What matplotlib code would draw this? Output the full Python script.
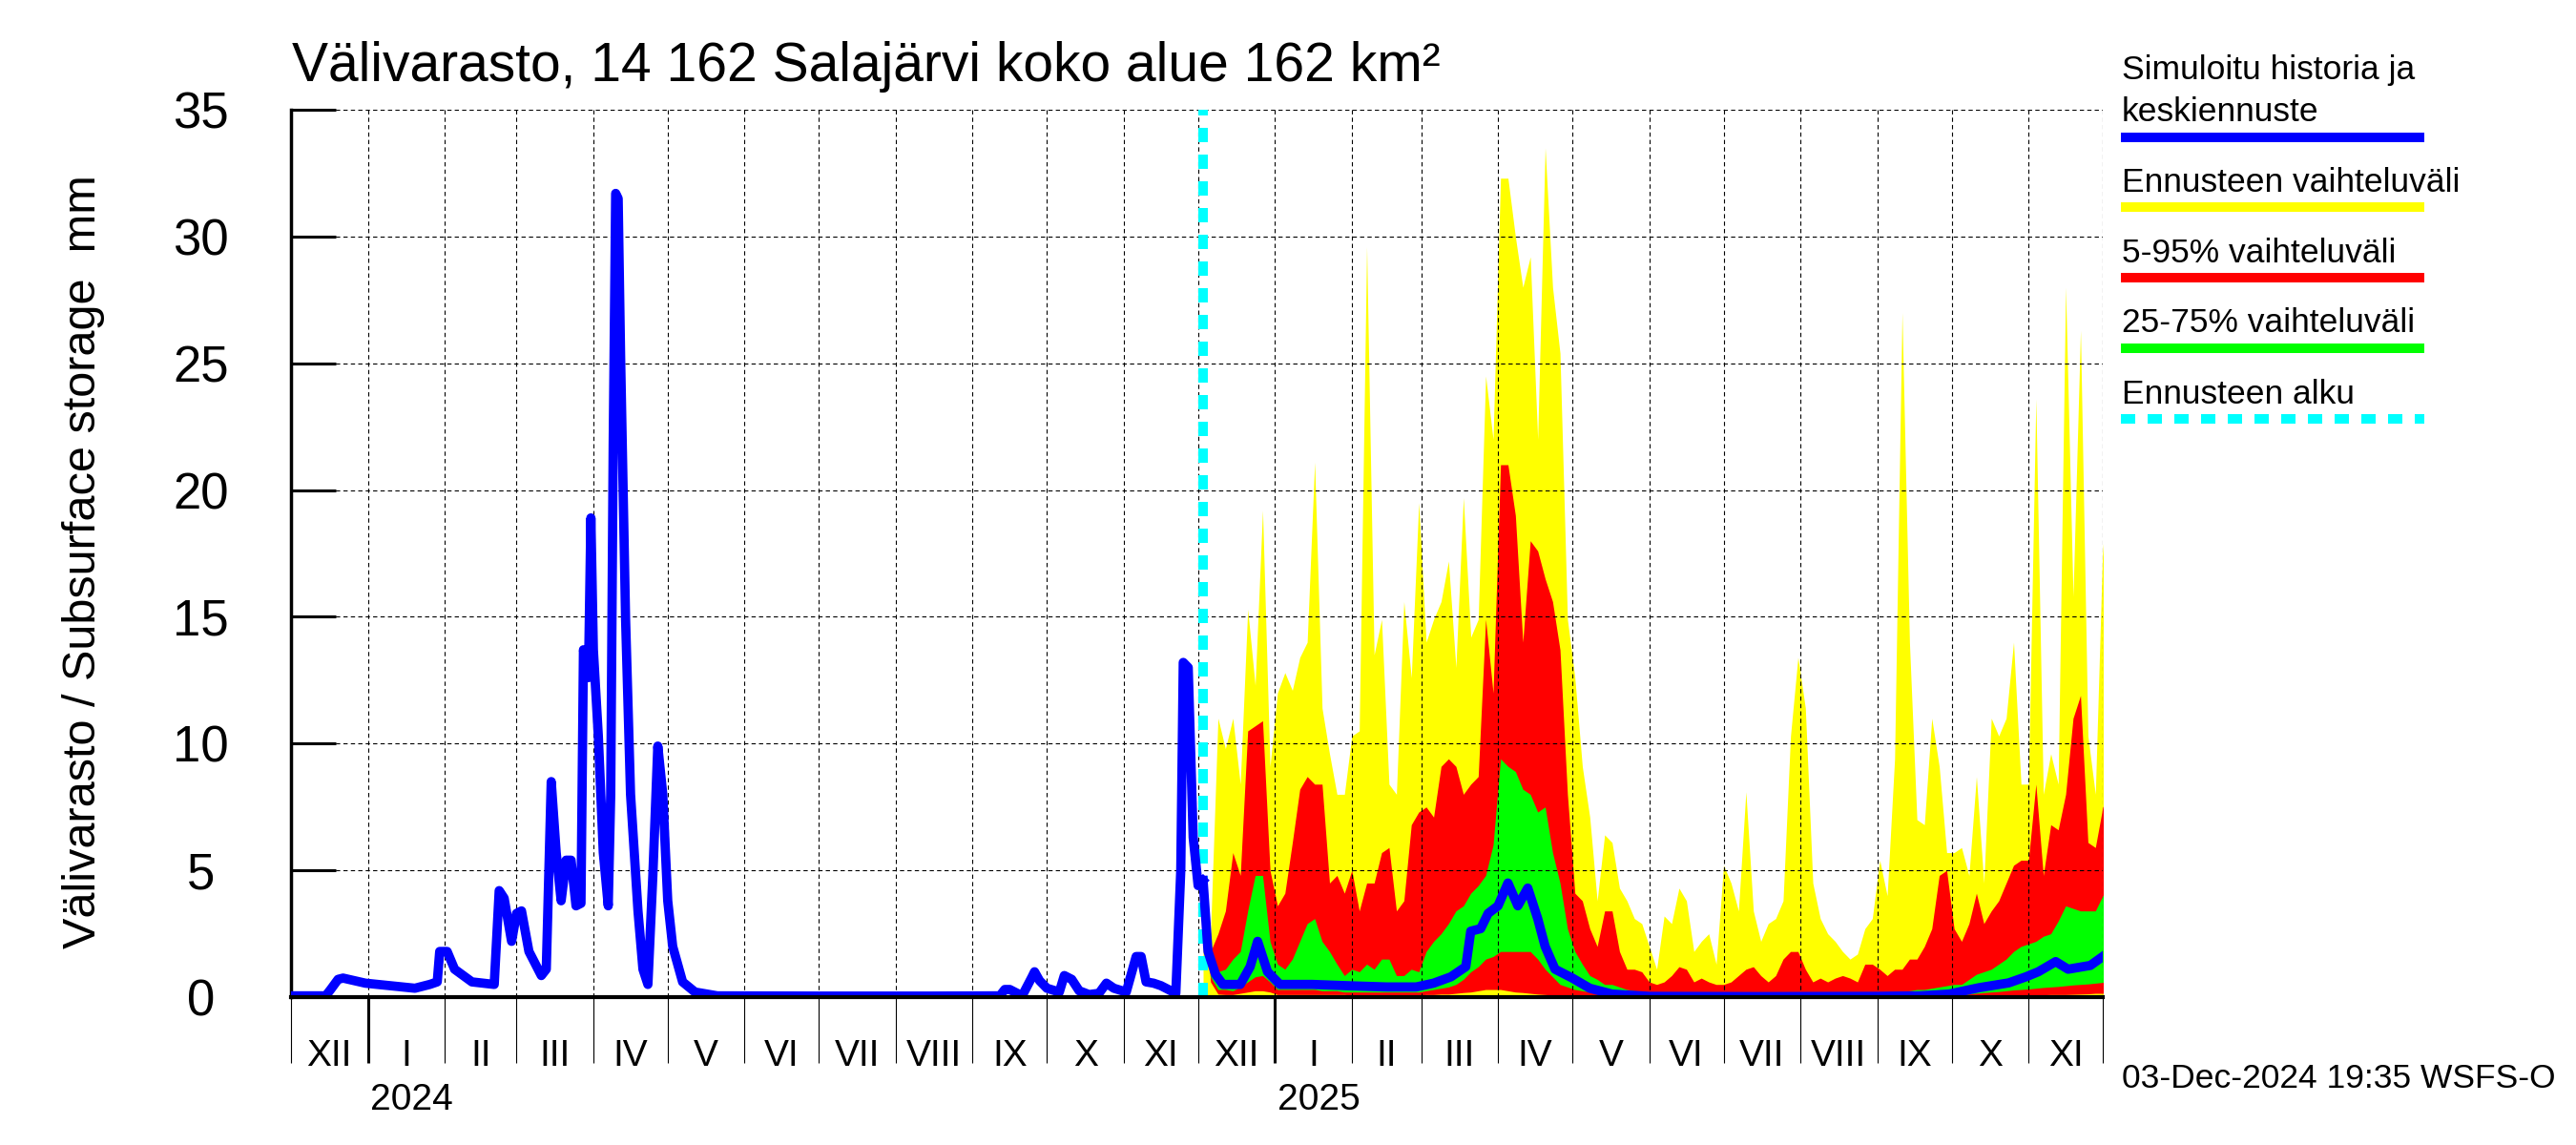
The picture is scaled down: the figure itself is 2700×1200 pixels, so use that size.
import matplotlib
matplotlib.use("Agg")
import matplotlib.pyplot as plt
from matplotlib.lines import Line2D
import matplotlib.transforms as mtransforms
import pandas as pd

plt.rcParams['font.family'] = ['Liberation Sans', 'DejaVu Sans']

# simulated history (blue)
hist_dates = ['2023-12-01', '2023-12-15', '2023-12-17', '2023-12-20', '2023-12-22', '2023-12-31',
              '2024-01-20', '2024-01-26', '2024-01-29', '2024-01-30', '2024-02-02', '2024-02-05',
              '2024-02-12', '2024-02-21', '2024-02-23', '2024-02-25', '2024-02-28', '2024-03-01',
              '2024-03-03', '2024-03-06', '2024-03-11', '2024-03-13', '2024-03-15', '2024-03-17',
              '2024-03-19', '2024-03-21', '2024-03-23', '2024-03-25', '2024-03-27', '2024-03-28',
              '2024-03-30', '2024-03-31', '2024-04-01', '2024-04-03', '2024-04-05', '2024-04-07',
              '2024-04-08', '2024-04-09', '2024-04-10', '2024-04-11', '2024-04-12', '2024-04-14',
              '2024-04-16', '2024-04-19', '2024-04-21', '2024-04-23', '2024-04-25', '2024-04-27',
              '2024-04-29', '2024-05-01', '2024-05-03', '2024-05-07', '2024-05-12', '2024-05-21',
              '2024-07-01', '2024-08-15', '2024-09-12', '2024-09-14', '2024-09-16', '2024-09-21',
              '2024-09-25', '2024-09-26', '2024-09-28', '2024-10-01', '2024-10-06', '2024-10-08',
              '2024-10-11', '2024-10-14', '2024-10-18', '2024-10-22', '2024-10-25', '2024-10-28',
              '2024-11-02', '2024-11-06', '2024-11-08', '2024-11-10', '2024-11-13', '2024-11-16',
              '2024-11-20', '2024-11-22', '2024-11-24', '2024-11-25', '2024-11-27', '2024-11-29',
              '2024-12-01', '2024-12-03']
hist_vals = [0.05, 0.05, 0.3, 0.7, 0.75, 0.55,
             0.35, 0.5, 0.6, 1.8, 1.8, 1.1,
             0.6, 0.5, 4.2, 3.9, 2.2, 3.3,
             3.4, 1.8, 0.85, 1.1, 8.5, 5.7,
             3.8, 5.4, 5.4, 3.6, 3.7, 13.7,
             12.6, 18.9, 13.7, 10.3, 5.7, 3.6,
             8.0, 21.8, 31.7, 31.5, 25.2, 14.9,
             8.0, 3.4, 1.1, 0.5, 4.8, 9.9,
             8.0, 3.8, 2.0, 0.6, 0.2, 0.05,
             0.04, 0.04, 0.05, 0.3, 0.3, 0.05,
             0.8, 1.0, 0.65, 0.35, 0.2, 0.85,
             0.7, 0.25, 0.1, 0.15, 0.55, 0.35,
             0.2, 1.6, 1.6, 0.6, 0.55, 0.45,
             0.25, 0.15, 5.0, 13.2, 13.0, 6.3,
             4.4, 4.6]

# forecast median (blue)
med_dates = ['2024-12-03', '2024-12-05', '2024-12-08', '2024-12-11', '2024-12-18', '2024-12-22',
             '2024-12-25', '2024-12-29', '2025-01-03', '2025-01-16', '2025-01-30', '2025-02-15',
             '2025-02-27', '2025-03-06', '2025-03-13', '2025-03-19', '2025-03-21', '2025-03-25',
             '2025-03-28', '2025-04-01', '2025-04-05', '2025-04-09', '2025-04-13', '2025-04-17',
             '2025-04-20', '2025-04-24', '2025-05-01', '2025-05-08', '2025-05-17', '2025-06-01',
             '2025-07-15', '2025-09-01', '2025-09-18', '2025-09-30', '2025-10-12', '2025-10-24',
             '2025-10-31', '2025-11-05', '2025-11-12', '2025-11-17', '2025-11-26', '2025-12-01']
med_vals = [4.6, 1.8, 0.9, 0.5, 0.5, 1.2,
            2.2, 1.0, 0.5, 0.5, 0.45, 0.4,
            0.4, 0.55, 0.8, 1.2, 2.6, 2.7,
            3.3, 3.6, 4.5, 3.6, 4.3, 3.1,
            2.0, 1.1, 0.75, 0.35, 0.12, 0.03,
            0.02, 0.03, 0.05, 0.12, 0.37, 0.56,
            0.8, 1.0, 1.4, 1.1, 1.25, 1.6]

# forecast bands, every 3 days from 2024-12-03
band_start = '2024-12-03'
band_step_days = 3
fc_max = [4.6, 2.5, 11.0, 9.8, 11.0, 8.4, 15.3, 12.3, 19.2, 9.1,
          12.0, 12.8, 12.1, 13.4, 14.0, 21.1, 11.4, 9.6, 8.0, 8.0,
          10.3, 10.5, 29.6, 13.5, 14.9, 8.4, 8.0, 15.6, 12.6, 19.5,
          14.0, 14.9, 15.6, 17.2, 13.0, 19.7, 14.2, 14.9, 24.5, 22.0,
          32.3, 32.3, 30.0, 28.0, 29.2, 22.0, 33.5, 28.0, 25.4, 14.9,
          12.6, 9.1, 7.1, 3.8, 6.4, 6.1, 4.3, 3.8, 3.1, 2.9,
          2.0, 1.1, 3.2, 2.9, 4.3, 3.8, 1.8, 2.2, 2.5, 1.3,
          5.2, 4.5, 3.4, 8.1, 3.4, 2.2, 2.9, 3.1, 3.8, 10.3,
          13.4, 11.4, 4.5, 3.1, 2.5, 2.2, 1.8, 1.5, 1.7, 2.7,
          3.1, 5.4, 4.0, 9.4, 27.0, 14.0, 7.0, 6.8, 11.0, 9.1,
          5.7, 5.7, 5.9, 4.8, 8.7, 4.5, 11.0, 10.3, 11.0, 14.0,
          8.4, 8.4, 23.6, 8.0, 9.6, 8.4, 28.0, 15.8, 26.3, 10.3,
          8.0, 17.9, 10.0]
fc_p95 = [4.6, 1.8, 2.5, 3.4, 5.7, 4.8, 10.5, 10.7, 10.9, 5.0,
          3.6, 4.1, 6.1, 8.2, 8.7, 8.4, 8.4, 4.5, 4.8, 4.1,
          5.0, 3.4, 4.5, 4.5, 5.7, 5.9, 3.4, 3.8, 6.8, 7.3,
          7.5, 7.1, 9.1, 9.4, 9.1, 8.0, 8.4, 8.7, 14.9, 12.0,
          21.0, 21.0, 19.0, 14.0, 18.0, 17.6, 16.5, 15.6, 13.7, 8.0,
          4.1, 3.8, 2.7, 2.0, 3.4, 3.4, 1.8, 1.1, 1.1, 1.0,
          0.6, 0.5, 0.6, 0.85, 1.2, 1.1, 0.6, 0.75, 0.6, 0.5,
          0.5, 0.6, 0.85, 1.1, 1.2, 0.85, 0.6, 0.85, 1.5, 1.8,
          1.8, 1.1, 0.6, 0.75, 0.6, 0.75, 0.85, 0.75, 0.6, 1.3,
          1.3, 1.1, 0.85, 1.1, 1.1, 1.5, 1.5, 2.0, 2.7, 4.8,
          5.0, 2.7, 2.2, 2.9, 4.1, 2.9, 3.4, 3.8, 4.5, 5.2,
          5.4, 5.4, 8.4, 4.8, 6.8, 6.6, 8.0, 11.0, 11.9, 6.1,
          5.9, 7.5, 8.0]
fc_p75 = [4.6, 1.2, 1.0, 1.1, 1.5, 1.8, 3.4, 4.8, 4.8, 2.2,
          1.3, 1.1, 1.5, 2.2, 2.9, 3.1, 2.2, 1.8, 1.3, 0.85,
          1.1, 1.0, 1.3, 1.1, 1.5, 1.5, 0.85, 0.85, 1.1, 1.0,
          1.8, 2.2, 2.5, 2.9, 3.4, 3.6, 4.1, 4.4, 4.8, 6.0,
          9.4, 9.1, 8.9, 8.2, 8.0, 7.3, 7.5, 5.7, 4.5, 2.7,
          1.8, 1.3, 0.85, 0.7, 0.5, 0.5, 0.4, 0.3, 0.25, 0.2,
          0.15, 0.12, 0.12, 0.12, 0.12, 0.1, 0.1, 0.1, 0.1, 0.1,
          0.1, 0.1, 0.1, 0.1, 0.1, 0.1, 0.1, 0.1, 0.12, 0.12,
          0.15, 0.15, 0.15, 0.15, 0.12, 0.12, 0.12, 0.12, 0.12, 0.15,
          0.15, 0.15, 0.15, 0.18, 0.2, 0.25, 0.3, 0.3, 0.35, 0.4,
          0.45, 0.5, 0.5, 0.7, 0.9, 1.0, 1.1, 1.3, 1.5, 1.8,
          2.0, 2.1, 2.2, 2.4, 2.5, 3.0, 3.6, 3.5, 3.4, 3.4,
          3.4, 4.0, 4.5]
fc_p25 = [4.6, 0.8, 0.3, 0.3, 0.25, 0.4, 0.6, 0.8, 0.85, 0.6,
          0.3, 0.3, 0.3, 0.3, 0.3, 0.3, 0.25, 0.25, 0.25, 0.2,
          0.2, 0.2, 0.2, 0.2, 0.2, 0.2, 0.2, 0.2, 0.2, 0.2,
          0.25, 0.3, 0.35, 0.4, 0.5, 0.7, 1.0, 1.2, 1.5, 1.6,
          1.8, 1.8, 1.8, 1.8, 1.8, 1.5, 1.1, 0.8, 0.5, 0.4,
          0.3, 0.25, 0.2, 0.18, 0.15, 0.12, 0.1, 0.09, 0.08, 0.06,
          0.05, 0.05, 0.04, 0.04, 0.03, 0.03, 0.02, 0.02, 0.02, 0.02,
          0.02, 0.02, 0.02, 0.02, 0.02, 0.02, 0.02, 0.02, 0.02, 0.02,
          0.02, 0.02, 0.02, 0.02, 0.02, 0.02, 0.02, 0.02, 0.02, 0.03,
          0.03, 0.03, 0.03, 0.04, 0.04, 0.05, 0.05, 0.06, 0.06, 0.07,
          0.08, 0.09, 0.1, 0.12, 0.15, 0.18, 0.2, 0.22, 0.25, 0.28,
          0.3, 0.32, 0.35, 0.38, 0.4, 0.42, 0.45, 0.48, 0.5, 0.52,
          0.55, 0.58, 0.6]
fc_p05 = [4.6, 0.6, 0.12, 0.1, 0.1, 0.15, 0.2, 0.25, 0.25, 0.2,
          0.1, 0.1, 0.1, 0.1, 0.1, 0.1, 0.1, 0.1, 0.1, 0.1,
          0.08, 0.08, 0.08, 0.08, 0.08, 0.08, 0.08, 0.08, 0.08, 0.08,
          0.1, 0.1, 0.12, 0.12, 0.15, 0.18, 0.2, 0.25, 0.3, 0.3,
          0.3, 0.25, 0.2, 0.18, 0.15, 0.12, 0.1, 0.08, 0.05, 0.05,
          0.05, 0.04, 0.03, 0.03, 0.02, 0.02, 0.02, 0.02, 0.02, 0.01,
          0.01, 0.0, 0.0, 0.0, 0.0, 0.0, 0.0, 0.0, 0.0, 0.0,
          0.0, 0.0, 0.0, 0.0, 0.0, 0.0, 0.0, 0.0, 0.0, 0.0,
          0.0, 0.0, 0.0, 0.0, 0.0, 0.0, 0.0, 0.0, 0.0, 0.0,
          0.0, 0.0, 0.0, 0.0, 0.0, 0.0, 0.01, 0.01, 0.01, 0.01,
          0.02, 0.02, 0.02, 0.02, 0.03, 0.03, 0.04, 0.04, 0.05, 0.05,
          0.06, 0.07, 0.08, 0.09, 0.1, 0.1, 0.1, 0.11, 0.12, 0.13,
          0.15, 0.15, 0.15]

forecast_start = '2024-12-03'
roman = ['I', 'II', 'III', 'IV', 'V', 'VI', 'VII', 'VIII', 'IX', 'X', 'XI', 'XII']
yticks = [0, 5, 10, 15, 20, 25, 30, 35]

hd = pd.to_datetime(hist_dates)
md = pd.to_datetime(med_dates)
bd = pd.date_range(band_start, periods=len(fc_max), freq=f'{band_step_days}D')

fig = plt.figure(figsize=(27, 12), dpi=100)
ax = fig.add_axes([305 / 2700, 1 - 1045 / 1200, 1899 / 2700, 930 / 1200])

ax.set_xlim(pd.Timestamp('2023-12-01'), pd.Timestamp('2025-12-01'))
ax.set_ylim(0, 35)

# forecast bands
ax.fill_between(bd, 0, fc_max, color='#ffff00', lw=0, zorder=1)
ax.fill_between(bd, fc_p05, fc_p95, color='#ff0000', lw=0, zorder=1.1)
ax.fill_between(bd, fc_p25, fc_p75, color='#00ff00', lw=0, zorder=1.2)

# grid
month_edges = pd.date_range('2023-12-01', '2025-12-01', freq='MS')
for m in month_edges[1:]:
    ax.axvline(m, color='black', lw=0.8, ls=(0, (4, 3)), zorder=2)
for y in yticks[1:]:
    ax.axhline(y, color='black', lw=0.8, ls=(0, (4, 3)), zorder=2)

cyan_dash = (0, (1.5, 1.3))
ax.axvline(pd.Timestamp(forecast_start), color='#00ffff', lw=7.2, ls=cyan_dash, zorder=3)

ax.plot(hd, hist_vals, color='#0000ff', lw=7, zorder=4)
ax.plot(md, med_vals, color='#0000ff', lw=7, zorder=4)

for s in ['top', 'right']:
    ax.spines[s].set_visible(False)
ax.spines['left'].set_linewidth(2.5)
ax.spines['bottom'].set_linewidth(3)
ax.spines['bottom'].set_zorder(5)

ax.set_yticks(yticks)
ax.set_yticklabels([str(v) for v in yticks], fontsize=38)
ax.tick_params(axis='y', direction='in', length=34, width=2.2, pad=68)
for lab in ax.get_yticklabels():
    lab.set_ha('center')

ax.set_xticks(month_edges)
ax.set_xticklabels([''] * len(month_edges))
ax.tick_params(axis='x', which='major', direction='out', length=50, width=0.8)
for t, m in zip(ax.xaxis.get_major_ticks(), month_edges):
    if m.month == 1:
        t.tick1line.set_markeredgewidth(2.2)

centers = [m + (m + pd.offsets.MonthBegin(1) - m) / 2 for m in month_edges[:-1]]
ax.set_xticks(centers, minor=True)
ax.set_xticklabels([roman[c.month - 1] for c in centers], minor=True, fontsize=28)
ax.tick_params(axis='x', which='minor', length=0, pad=32)

trans = mtransforms.blended_transform_factory(ax.transData, ax.transAxes)
for yr in ['2024', '2025']:
    ax.text(pd.Timestamp(yr + '-01-02'), -0.116, yr, transform=trans, ha='left', va='center', fontsize=28)

ax.set_ylabel('Välivarasto / Subsurface storage  mm', fontsize=35)
ax.yaxis.set_label_coords((110 - 305) / 1899, 0.491)

fig.text(306 / 2700, 1 - 85 / 1200, 'Välivarasto, 14 162 Salajärvi koko alue 162 km²',
         fontsize=41, ha='left', va='baseline')

# legend
lx0, lx1 = 2223 / 2700, 2541 / 2700
entries = [
    (['Simuloitu historia ja', 'keskiennuste'], [83, 127], 144, '#0000ff', '-'),
    (['Ennusteen vaihteluväli'], [201], 217, '#ffff00', '-'),
    (['5-95% vaihteluväli'], [275], 291, '#ff0000', '-'),
    (['25-75% vaihteluväli'], [348], 365, '#00ff00', '-'),
    (['Ennusteen alku'], [423], 439, '#00ffff', cyan_dash),
]
for texts, baselines, ly, col, ls in entries:
    for t, b in zip(texts, baselines):
        fig.text(2224 / 2700, 1 - b / 1200, t, fontsize=25.5, ha='left', va='baseline')
    fig.add_artist(Line2D([lx0, lx1], [1 - ly / 1200, 1 - ly / 1200], color=col, lw=7.2,
                          ls=ls, solid_capstyle='butt', dash_capstyle='butt',
                          transform=fig.transFigure))

fig.text(2224 / 2700, 1 - 1140 / 1200, '03-Dec-2024 19:35 WSFS-O', fontsize=25.5, ha='left', va='baseline')

fig.savefig('out.png', dpi=100)
